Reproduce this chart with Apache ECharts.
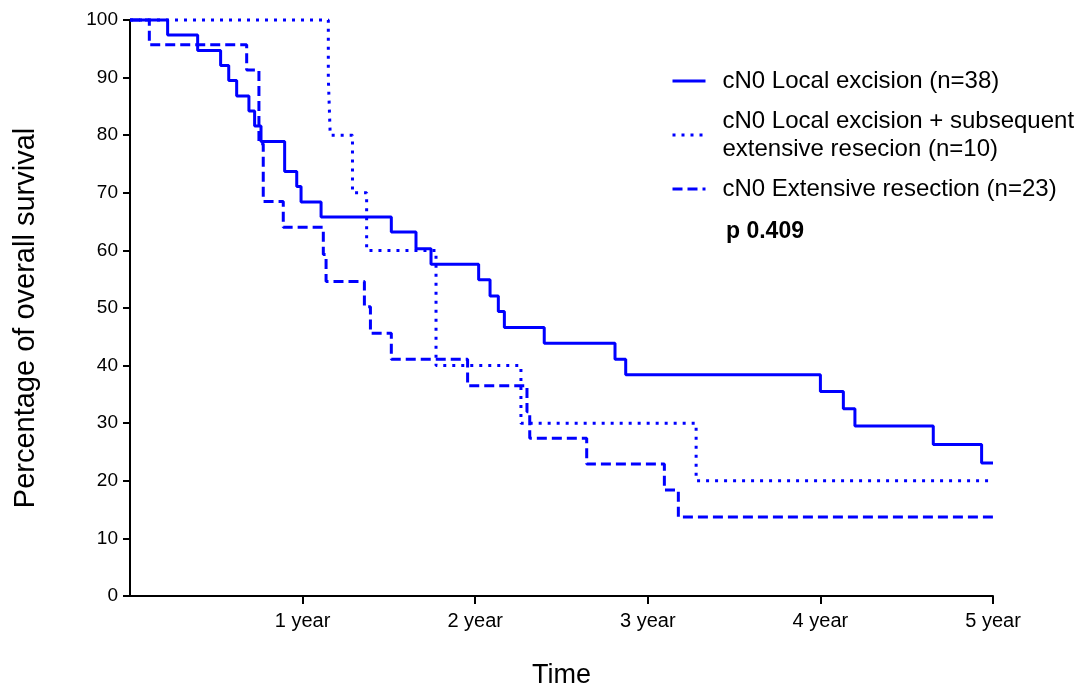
<!DOCTYPE html>
<html>
<head>
<meta charset="utf-8">
<title>Overall survival</title>
<script src="https://cdn.jsdelivr.net/npm/echarts@6/dist/echarts.min.js"></script>
<style>
  html, body { margin: 0; padding: 0; background: #fff; }
  #main { width: 1078px; height: 688px; }
</style>
</head>
<body>
<div id="main"></div>
<script>
// survival steps: value holds from each time until the next one
const localTimes = [0, 0.218, 0.392, 0.525, 0.572, 0.618, 0.689, 0.722, 0.759, 0.896, 0.966, 0.991, 1.107, 1.514, 1.657, 1.744, 2.02, 2.086, 2.134, 2.169, 2.40, 2.81, 2.872, 4.0, 4.133, 4.2, 4.654, 4.934, 5.0];
const localSurv  = [100, 97.4, 94.7, 92.1, 89.5, 86.8, 84.2, 81.6, 78.9, 73.7, 71.1, 68.4, 65.8, 63.2, 60.3, 57.6, 54.9, 52.1, 49.4, 46.6, 43.9, 41.1, 38.4, 35.5, 32.5, 29.5, 26.3, 23.1, 23.1];

const subseqTimes = [0, 1.149, 1.16, 1.289, 1.371, 1.773, 2.265, 3.28, 5.0];
const subseqSurv  = [100, 90, 80, 70, 60, 40, 30, 20, 20];

const extTimes = [0, 0.112, 0.676, 0.747, 0.772, 0.888, 1.12, 1.136, 1.358, 1.393, 1.514, 1.956, 2.30, 2.316, 2.646, 3.096, 3.177, 5.0];
const extSurv  = [100, 95.7, 91.3, 78.5, 68.5, 64.0, 59.3, 54.6, 50.2, 45.6, 41.1, 36.5, 32.0, 27.4, 22.9, 18.4, 13.7, 13.7];

const seriesNames = [
  'cN0 Local excision (n=38)',
  'cN0 Local excision + subsequent\nextensive resecion (n=10)',
  'cN0 Extensive resection (n=23)'
];
const xTicks = [1, 2, 3, 4, 5];
const xTickLabels = ['1 year', '2 year', '3 year', '4 year', '5 year'];
const pValue = 'p 0.409';

const FONT = 'Liberation Sans, Arial, sans-serif';
const BLUE = '#0000ff';

const pairs = (ts, vs) => ts.map((t, i) => [t, vs[i]]);

const chart = echarts.init(document.getElementById('main'));

function kmSeries(name, ts, vs, type) {
  return {
    name,
    type: 'line',
    step: 'end',
    data: pairs(ts, vs),
    showSymbol: false,
    symbol: 'none',
    clip: false,
    animation: false,
    lineStyle: { color: BLUE, width: 3, type: type, cap: 'butt' },
    itemStyle: { color: BLUE }
  };
}

chart.setOption({
  backgroundColor: '#fff',
  animation: false,
  grid: { left: 130, right: 85, top: 20, bottom: 92, containLabel: false, outerBoundsMode: 'none' },
  legend: {
    orient: 'vertical',
    left: 666,
    top: 62,
    itemWidth: 33,
    itemHeight: 14,
    itemGap: 12,
    data: seriesNames,
    itemStyle: { opacity: 0 },
    lineStyle: { width: 3 },
    textStyle: {
      fontFamily: FONT,
      fontSize: 24,
      lineHeight: 28,
      color: '#000',
      padding: [0, 0, 0, 12]
    }
  },
  graphic: [{
    type: 'text',
    left: 726,
    top: 220,
    style: {
      text: pValue,
      fontFamily: FONT,
      fontSize: 23,
      fontWeight: 'bold',
      fill: '#000'
    }
  }],
  xAxis: {
    type: 'value',
    min: 0,
    max: 5,
    interval: 1,
    name: 'Time',
    nameLocation: 'middle',
    nameGap: 66,
    nameTextStyle: { fontFamily: FONT, fontSize: 27, color: '#000' },
    axisLine: { lineStyle: { color: '#000', width: 2 } },
    axisTick: { show: true, length: 8, lineStyle: { color: '#000', width: 2 }, customValues: xTicks },
    axisLabel: {
      customValues: xTicks,
      formatter: (v) => xTickLabels[xTicks.indexOf(v)] || '',
      fontFamily: FONT,
      fontSize: 20,
      color: '#000',
      margin: 15
    },
    splitLine: { show: false }
  },
  yAxis: {
    type: 'value',
    min: 0,
    max: 100,
    interval: 10,
    name: 'Percentage of overall survival',
    nameLocation: 'middle',
    nameGap: 90,
    nameTextStyle: { fontFamily: FONT, fontSize: 29, color: '#000', padding: [0, 20, 0, 0] },
    axisLine: { show: true, lineStyle: { color: '#000', width: 2 } },
    axisTick: { show: true, length: 7, lineStyle: { color: '#000', width: 2 } },
    axisLabel: { fontFamily: FONT, fontSize: 19, color: '#000', margin: 12 },
    splitLine: { show: false }
  },
  series: [
    kmSeries(seriesNames[0], localTimes, localSurv, 'solid'),
    kmSeries(seriesNames[1], subseqTimes, subseqSurv, [3, 6]),
    kmSeries(seriesNames[2], extTimes, extSurv, [10, 5])
  ]
});
</script>
</body>
</html>
